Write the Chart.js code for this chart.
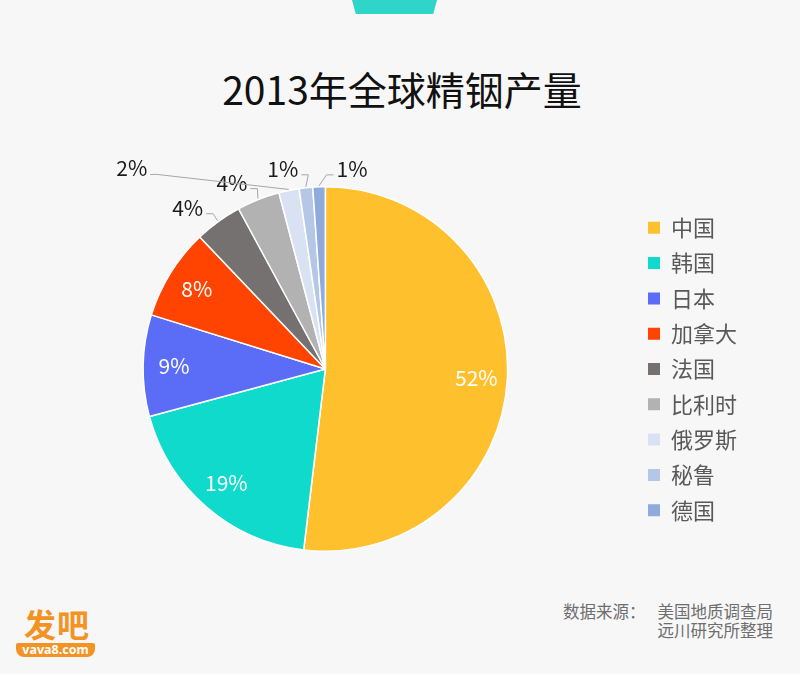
<!DOCTYPE html>
<html><head><meta charset="utf-8">
<script src="https://cdn.jsdelivr.net/npm/chart.js@4"></script>
<style>
html,body{margin:0;padding:0;background:#f7f7f7;width:800px;height:674px;overflow:hidden;font-family:"Noto Sans CJK SC","Noto Sans",sans-serif;}
#tab{position:absolute;left:352px;top:0;width:85px;height:14px;background:#2fd5c8;clip-path:polygon(0 0,100% 0,95.5% 100%,4.5% 100%);}
#title{position:absolute;left:0;width:804px;top:62px;text-align:center;font-size:39px;color:#111;line-height:52px;white-space:nowrap;}
#wrap{position:absolute;left:0;top:140px;width:800px;height:450px;}
#src{position:absolute;right:27px;top:602px;font-size:16.5px;color:#6e6e6e;line-height:19px;text-align:right;white-space:nowrap;}
#logo1{position:absolute;left:24px;top:604px;font-size:32px;font-weight:bold;color:#f39324;line-height:38px;letter-spacing:1px;}
#logo2{position:absolute;left:16px;top:643px;width:79px;height:14px;background:#f39324;border-radius:2px 2px 8px 8px;color:#fff;font-family:"Noto Sans",sans-serif;font-weight:bold;font-size:12.5px;line-height:14px;text-align:center;}
</style></head>
<body>
<div id="tab"></div>
<div id="title">2013年全球精铟产量</div>
<div id="wrap"><canvas id="c"></canvas></div>
<div id="src"><span style="margin-right:12px">数据来源：</span>美国地质调查局<br>远川研究所整理</div>
<div id="logo1">发吧</div>
<div id="logo2">vava8.com</div>
<script>
const categories = ['中国','韩国','日本','加拿大','法国','比利时','俄罗斯','秘鲁','德国'];
const shares = [51.9, 18.9, 9.0, 8.1, 4.2, 3.8, 1.8, 1.2, 1.1];
const sliceColors = ['#FFC02E','#0FDACB','#5B6CF7','#FF4300','#767171','#B2B2B2','#D9E2F3','#B4C7E7','#8FAADC'];
// label placement relative to slice edge (null = inside label)
const outsideOffsets = [null, null, null, null, [-30,-13], [-26,-16], [-157,-21], [-23,-18], [33,-17]];

const pieLabels = {
  id:'pieLabels',
  afterDatasetsDraw(chart){
    const ctx = chart.ctx;
    const meta = chart.getDatasetMeta(0);
    const data = chart.data.datasets[0].data;
    const total = data.reduce((a,b)=>a+b,0);
    ctx.save();
    ctx.font = '21px "Noto Sans CJK SC"';
    ctx.textBaseline = 'middle';
    ctx.textAlign = 'center';
    meta.data.forEach((arc,i)=>{
      const p = arc.getProps(['x','y','startAngle','endAngle','outerRadius'], true);
      const mid = (p.startAngle + p.endAngle)/2;
      const txt = Math.round(data[i]/total*100) + '%';
      const off = outsideOffsets[i];
      if (!off) {
        const r = p.outerRadius*0.83;
        ctx.fillStyle = '#fff';
        ctx.fillText(txt, p.x + Math.cos(mid)*r, p.y + Math.sin(mid)*r);
      } else {
        const ex = p.x + Math.cos(mid)*(p.outerRadius+1);
        const ey = p.y + Math.sin(mid)*(p.outerRadius+1);
        const tx = ex + off[0], ty = ey + off[1];
        const hw = ctx.measureText(txt).width/2;
        const dir = off[0] < 0 ? 1 : -1;
        const sx = tx + dir*(hw+3);
        const ly = ty + 6;
        ctx.strokeStyle = '#a6a6a6';
        ctx.lineWidth = 1;
        ctx.beginPath();
        ctx.moveTo(sx, ly);
        ctx.lineTo(sx + dir*7, ly);
        ctx.lineTo(ex, ey);
        ctx.stroke();
        ctx.fillStyle = '#1a1a1a';
        ctx.fillText(txt, tx, ty);
      }
    });
    ctx.restore();
  }
};

new Chart(document.getElementById('c'), {
  type:'pie',
  data:{
    labels: categories,
    datasets:[{data: shares, backgroundColor: sliceColors, borderColor:'#ffffff', borderWidth:1.5}]
  },
  plugins:[pieLabels],
  options:{
    responsive:true,
    maintainAspectRatio:false,
    animation:false,
    layout:{padding:{top:46,bottom:38,left:16,right:53}},
    plugins:{
      tooltip:{enabled:false},
      legend:{
        position:'right',
        labels:{
          boxWidth:12, boxHeight:12, padding:13.3,
          color:'#595959',
          font:{size:22, family:'"Noto Sans CJK SC"'},
          generateLabels:(chart)=>chart.data.labels.map((t,i)=>({
            text:t, fillStyle:sliceColors[i], strokeStyle:sliceColors[i], lineWidth:0,
            hidden:false, index:i, fontColor:'#595959'
          }))
        }
      }
    }
  }
});
</script>
</body></html>
